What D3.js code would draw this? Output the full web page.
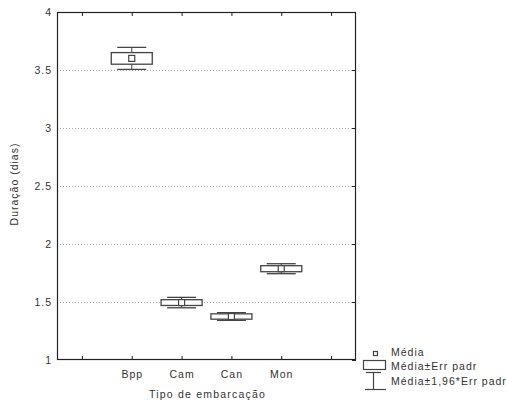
<!DOCTYPE html>
<html><head><meta charset="utf-8">
<script src="https://cdn.jsdelivr.net/npm/d3@7"></script>
<style>
body{margin:0;background:#fff;}
text{font-family:"Liberation Sans",Arial,sans-serif;fill:#333;}
</style></head>
<body>
<svg id="c" width="506" height="405"></svg>
<script>
const categories = ["Bpp","Cam","Can","Mon"];
const means = [3.600, 1.495, 1.375, 1.787];
const stdErr = [0.050, 0.025, 0.023, 0.026];
const ci196 = [0.095, 0.045, 0.033, 0.043];
const yTicks = [1, 1.5, 2, 2.5, 3, 3.5, 4];
const legendLabels = ["Média","Média±Err padr","Média±1,96*Err padr"];

const svg = d3.select("#c");
const L = 57, R = 356, T = 12, B = 360;
const xDomain = ["", ...categories, " "];
const x = d3.scalePoint().domain(xDomain).range([L, R]).padding(0.5);
const y = d3.scaleLinear().domain([1, 4]).range([B, T]);

// gridlines
svg.append("g").selectAll("line").data(yTicks.filter(v => v > 1 && v < 4)).join("line")
  .attr("x1", L).attr("x2", R)
  .attr("y1", d => Math.round(y(d)) + 0.5).attr("y2", d => Math.round(y(d)) + 0.5)
  .attr("stroke", "#a8a8a8").attr("stroke-width", 1).attr("stroke-dasharray", "1,2");

const axStyle = g => {
  g.select(".domain").remove();
  g.selectAll(".tick line").attr("stroke", "#222");
  g.selectAll("text").attr("font-size", 10.5).attr("fill", "#333").style("letter-spacing", "1px");
};

// bottom axis
svg.append("g").attr("transform", `translate(0,${B})`)
  .call(d3.axisBottom(x).tickSizeInner(-4).tickSizeOuter(0).tickPadding(11))
  .call(axStyle);
// top axis ticks
svg.append("g").attr("transform", `translate(0,${T})`)
  .call(d3.axisTop(x).tickSizeInner(-4).tickSizeOuter(0).tickFormat(""))
  .call(axStyle);
// left axis
svg.append("g").attr("transform", `translate(${L},0)`)
  .call(d3.axisLeft(y).tickValues(yTicks).tickSizeInner(0).tickSizeOuter(0).tickPadding(5).tickFormat(d3.format("")))
  .call(axStyle);
// right axis ticks
svg.append("g").attr("transform", `translate(${R},0)`)
  .call(d3.axisRight(y).tickValues(yTicks).tickSizeInner(-4).tickSizeOuter(0).tickFormat(""))
  .call(axStyle);

// frame
svg.append("rect").attr("x", L + 0.5).attr("y", T + 0.5).attr("width", R - L - 1).attr("height", B - T - 1)
  .attr("fill", "none").attr("stroke", "#222").attr("stroke-width", 1.2);

// boxes
const data = categories.map((c, i) => ({c, m: means[i], se: stdErr[i], ci: ci196[i]}));
const bw = 41, cw = 29, col = "#444";
const g = svg.append("g").selectAll("g").data(data).join("g");
g.append("line").attr("x1", d => x(d.c)).attr("x2", d => x(d.c))
  .attr("y1", d => y(d.m + d.ci)).attr("y2", d => y(d.m - d.ci)).attr("stroke", col);
g.append("rect").attr("x", d => x(d.c) - bw / 2).attr("width", bw)
  .attr("y", d => y(d.m + d.se)).attr("height", d => y(d.m - d.se) - y(d.m + d.se))
  .attr("fill", "#fff").attr("stroke", col).attr("stroke-width", 1.3);
g.append("line").attr("x1", d => x(d.c) - cw / 2).attr("x2", d => x(d.c) + cw / 2)
  .attr("y1", d => y(d.m + d.ci)).attr("y2", d => y(d.m + d.ci)).attr("stroke", col).attr("stroke-width", 1.3);
g.append("line").attr("x1", d => x(d.c) - cw / 2).attr("x2", d => x(d.c) + cw / 2)
  .attr("y1", d => y(d.m - d.ci)).attr("y2", d => y(d.m - d.ci)).attr("stroke", col).attr("stroke-width", 1.3);
g.append("rect").attr("x", d => x(d.c) - 3).attr("y", d => y(d.m) - 3).attr("width", 6).attr("height", 6)
  .attr("fill", "#fff").attr("stroke", col).attr("stroke-width", 1.2);

// axis titles
svg.append("text").attr("x", (L + R) / 2 + 1).attr("y", 398).attr("text-anchor", "middle")
  .attr("font-size", 10.5).style("letter-spacing", "1.2px").text("Tipo de embarcação");
svg.append("text").attr("transform", `translate(18,${(T + B) / 2 - 2}) rotate(-90)`).attr("text-anchor", "middle")
  .attr("font-size", 10.5).style("letter-spacing", "1px").text("Duração (dias)");

// legend
const lg = svg.append("g");
lg.append("rect").attr("x", 373.5).attr("y", 351.5).attr("width", 4).attr("height", 4)
  .attr("fill", "#fff").attr("stroke", col).attr("stroke-width", 1.2);
lg.append("rect").attr("x", 363.5).attr("y", 360.5).attr("width", 22).attr("height", 9)
  .attr("fill", "#fff").attr("stroke", col).attr("stroke-width", 1.2);
lg.append("line").attr("x1", 366).attr("x2", 381).attr("y1", 372.5).attr("y2", 372.5).attr("stroke", col).attr("stroke-width", 1.2);
lg.append("line").attr("x1", 373.5).attr("x2", 373.5).attr("y1", 372.5).attr("y2", 389.5).attr("stroke", col).attr("stroke-width", 1.2);
lg.append("line").attr("x1", 365).attr("x2", 386).attr("y1", 389.5).attr("y2", 389.5).attr("stroke", col).attr("stroke-width", 1.2);
lg.selectAll("text").data(legendLabels).join("text")
  .attr("x", 391).attr("y", (d, i) => [356, 369.5, 385][i])
  .attr("font-size", 10.5).style("letter-spacing", "1px").text(d => d);
</script>
</body></html>
